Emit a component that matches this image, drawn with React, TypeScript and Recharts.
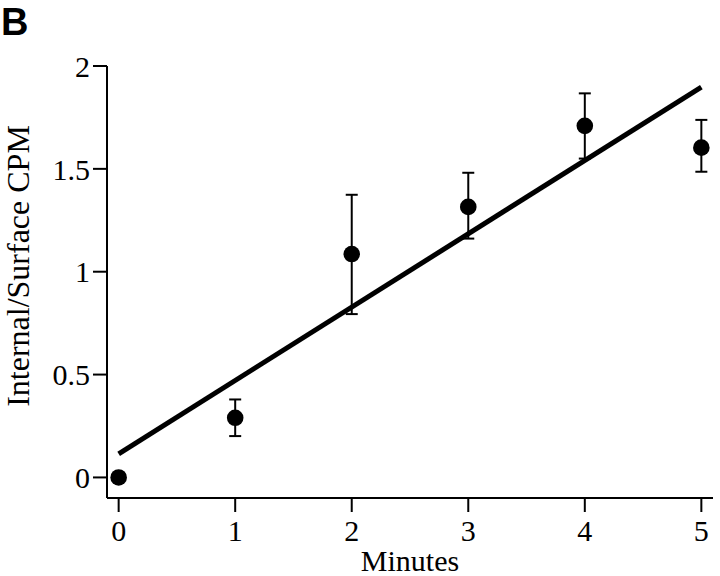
import {
  ComposedChart,
  ErrorBar,
  Label,
  Line,
  Scatter,
  XAxis,
  YAxis,
} from 'recharts'

const minutes = [0, 1, 2, 3, 4, 5]
const ratio = [0, 0.29, 1.086, 1.315, 1.709, 1.603]
const errLow = [0, 0.089, 0.292, 0.154, 0.159, 0.117]
const errHigh = [0, 0.089, 0.288, 0.166, 0.158, 0.135]

// linear fit drawn across the data
const fitX = [0, 5]
const fitY = [0.115, 1.897]

const xTicks = [0, 1, 2, 3, 4, 5]
const yTicks = [0, 0.5, 1, 1.5, 2]

const points = minutes.map((m, i) => ({
  x: m,
  y: ratio[i],
  err: [errLow[i], errHigh[i]],
}))
const fit = fitX.map((x, i) => ({ x, y: fitY[i] }))

const font = 'Liberation Serif, Times New Roman, serif'
const tick = { fill: '#000', fontSize: 30, fontFamily: font }
const axisLine = { stroke: '#000', strokeWidth: 2 }

function Dot(props: any) {
  return <circle cx={props.cx} cy={props.cy} r={8.3} fill="#000" />
}

function YTitle() {
  return (
    <text
      x={29}
      y={266}
      textAnchor="middle"
      transform="rotate(-90, 29, 266)"
      fill="#000"
      fontSize={32}
      fontFamily={font}
    >
      Internal/Surface CPM
    </text>
  )
}

function XTitle() {
  return (
    <text x={410} y={571} textAnchor="middle" fill="#000" fontSize={30} fontFamily={font}>
      Minutes
    </text>
  )
}

export default function App() {
  return (
    <div style={{ position: 'absolute', left: 0, top: 0, width: 720, height: 576, background: '#fff' }}>
      <ComposedChart
        width={720}
        height={576}
        margin={{ top: 66, right: 7, bottom: 28, left: 47 }}
      >
        <XAxis
          type="number"
          dataKey="x"
          domain={[-0.1, 5.1]}
          ticks={xTicks}
          allowDataOverflow
          height={50}
          tick={tick}
          tickSize={14}
          tickMargin={8}
          axisLine={axisLine}
          tickLine={axisLine}
        >
          <Label content={<XTitle />} />
        </XAxis>
        <YAxis
          type="number"
          dataKey="y"
          domain={[-0.1, 2]}
          ticks={yTicks}
          allowDataOverflow
          width={60}
          tick={tick}
          tickSize={14}
          tickMargin={3}
          axisLine={axisLine}
          tickLine={axisLine}
        >
          <Label content={<YTitle />} />
        </YAxis>
        <Line
          data={fit}
          dataKey="y"
          stroke="#000"
          strokeWidth={5}
          dot={false}
          activeDot={false}
          isAnimationActive={false}
        />
        <Scatter data={points} dataKey="y" shape={<Dot />} isAnimationActive={false}>
          <ErrorBar
            dataKey="err"
            direction="y"
            width={6}
            stroke="#000"
            strokeWidth={2}
            isAnimationActive={false}
          />
        </Scatter>
      </ComposedChart>
      <svg
        width={60}
        height={44}
        style={{ position: 'absolute', left: 0, top: 0 }}
      >
        <text
          x={1}
          y={35}
          fill="#000"
          fontSize={38}
          fontWeight="bold"
          fontFamily="Liberation Sans, Arial, sans-serif"
        >
          B
        </text>
      </svg>
    </div>
  )
}
